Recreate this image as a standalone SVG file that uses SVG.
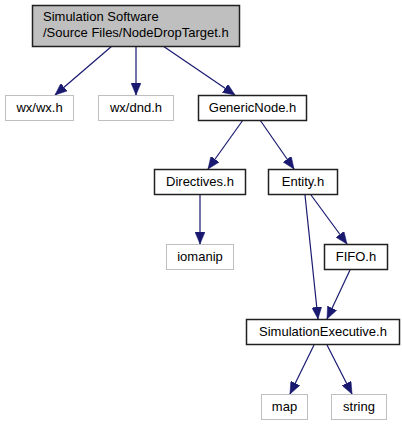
<svg xmlns="http://www.w3.org/2000/svg" width="402" height="425" viewBox="0 0 402 425">
<style>
.n rect{fill:#fff;stroke:#202020;stroke-width:1.5}
.g rect{fill:#fff;stroke:#bfbfbf;stroke-width:1}
.top rect{fill:#bfbfbf;stroke:#202020;stroke-width:1.5}
text{font-family:"Liberation Sans",Arial,sans-serif;font-size:13px;fill:#000}
.c{text-anchor:middle}
.e path{fill:none;stroke:#191970;stroke-width:1.2;marker-end:url(#a)}
</style>
<defs>
<marker id="a" viewBox="0 0 12 10" refX="12" refY="5" markerWidth="12" markerHeight="10" markerUnits="userSpaceOnUse" orient="auto">
<path d="M0,0L12,5L0,10Z" fill="#191970" stroke="#191970" stroke-width="0.5"/>
</marker>
</defs>
<rect width="402" height="425" fill="#fff"/>
<g class="e" id="edges">
<path d="M112,46L55,95"/>
<path d="M136,46L136,95"/>
<path d="M163,46L235,95"/>
<path d="M243,120L208,169"/>
<path d="M260,120L294,169"/>
<path d="M200,195L200,244"/>
<path d="M305,195L318,319"/>
<path d="M311,195L347,244"/>
<path d="M350,270L327,319"/>
<path d="M314,345L290,394"/>
<path d="M327,345L352,394"/>
</g>
<g class="top" id="nodeDropTarget"><rect x="32.5" y="5.5" width="207" height="41"/><text x="43" y="21">Simulation Software</text><text x="43" y="37">/Source Files/NodeDropTarget.h</text></g>
<g class="g" id="wxwx"><rect x="5.5" y="95.5" width="68" height="25"/><text class="c" x="39.5" y="112">wx/wx.h</text></g>
<g class="g" id="wxdnd"><rect x="98.5" y="95.5" width="75" height="25"/><text class="c" x="136" y="112">wx/dnd.h</text></g>
<g class="n" id="genericNode"><rect x="198.5" y="95.5" width="108" height="25"/><text class="c" x="252.5" y="112">GenericNode.h</text></g>
<g class="n" id="directives"><rect x="154.5" y="169.5" width="91" height="25"/><text class="c" x="200" y="186">Directives.h</text></g>
<g class="n" id="entity"><rect x="268.5" y="169.5" width="69" height="25"/><text class="c" x="303" y="186">Entity.h</text></g>
<g class="g" id="iomanip"><rect x="166.5" y="244.5" width="67" height="25"/><text class="c" x="200" y="261">iomanip</text></g>
<g class="n" id="fifo"><rect x="324.5" y="244.5" width="63" height="25"/><text class="c" x="356" y="261">FIFO.h</text></g>
<g class="n" id="simExec"><rect x="246.5" y="319.5" width="153" height="25"/><text class="c" x="323" y="336">SimulationExecutive.h</text></g>
<g class="g" id="map"><rect x="261.5" y="394.5" width="46" height="25"/><text class="c" x="284.5" y="411">map</text></g>
<g class="g" id="string"><rect x="331.5" y="394.5" width="55" height="25"/><text class="c" x="359" y="411">string</text></g>
</svg>
